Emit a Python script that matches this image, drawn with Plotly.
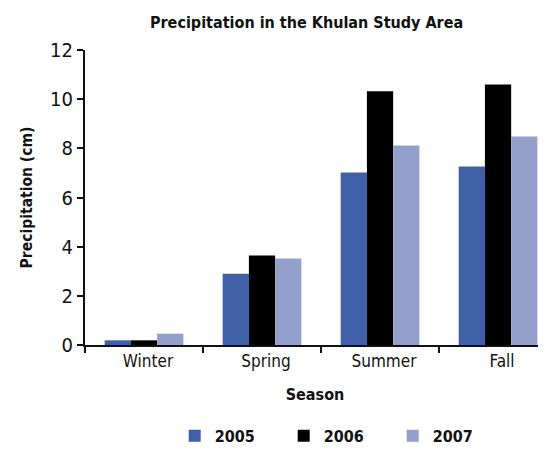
import plotly.graph_objects as go

seasons = ["Winter", "Spring", "Summer", "Fall"]
years = ["2005", "2006", "2007"]
p2005 = [0.19, 2.9, 7.02, 7.26]
p2006 = [0.19, 3.64, 10.32, 10.6]
p2007 = [0.46, 3.52, 8.12, 8.48]
colors = ["#3F60A7", "#000000", "#93A0CB"]

FONT = "DejaVu Sans Condensed, Liberation Sans Narrow, Roboto, sans-serif"

def f(size, **kw):
    return dict(family=FONT, size=size, color="#111", **kw)

fig = go.Figure()
for name, vals, c in zip(years, [p2005, p2006, p2007], colors):
    fig.add_trace(go.Bar(x=seasons, y=vals, name=name, marker=dict(color=c, line=dict(width=0))))

fig.update_layout(
    width=538, height=443,
    margin=dict(l=77, r=1, t=42, b=106, autoexpand=False),
    paper_bgcolor="white", plot_bgcolor="white",
    barmode="group", bargap=0.333, bargroupgap=0,
    font=f(17),
    title=dict(text="<b>Precipitation in the Khulan Study Area</b>",
               x=0.555, xanchor="center", y=0.968, yanchor="middle",
               font=f(16)),
    showlegend=True,
    legend=dict(orientation="h", x=0.195, xanchor="left", y=-0.308, yanchor="middle",
                font=f(16, weight="bold"), entrywidth=64, entrywidthmode="pixels",
                itemclick=False, traceorder="normal", itemwidth=30),
)
fig.update_xaxes(
    range=[-0.5, 3.398], showline=True, linecolor="#111", linewidth=2,
    ticks="outside", tickson="boundaries", ticklen=6, tickwidth=2, tickcolor="#111",
    tickfont=f(17), ticklabelshift=4, automargin=False,
    title=dict(text="<b>Season</b>", font=f(16), standoff=18),
    showgrid=False, zeroline=False,
)
fig.update_yaxes(
    range=[0, 12], dtick=2, showline=True, linecolor="#111", linewidth=2,
    ticks="outside", ticklen=6, tickwidth=2, tickcolor="#111",
    tickfont=f(20), automargin=False,
    title=dict(text="<b>Precipitation (cm)</b>", font=f(15.5), standoff=14),
    showgrid=False, zeroline=False,
)
fig.write_html("out.html")
